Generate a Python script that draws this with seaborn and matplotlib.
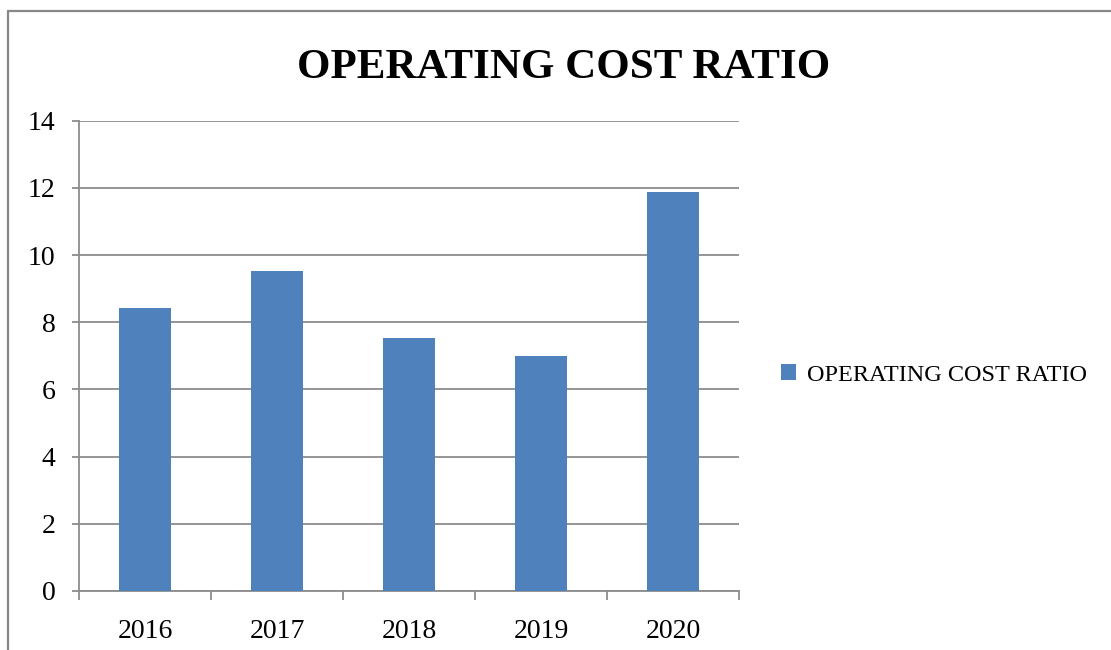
import matplotlib
matplotlib.use("Agg")
import matplotlib.pyplot as plt
from matplotlib.lines import Line2D
import seaborn as sns
import pandas as pd

years = ["2016", "2017", "2018", "2019", "2020"]
ratio = [8.42, 9.52, 7.53, 6.99, 11.87]
series_name = "OPERATING COST RATIO"
y_ticks = [0, 2, 4, 6, 8, 10, 12, 14]

sns.set_theme(style="white")
plt.rcParams["font.family"] = ["Liberation Serif", "DejaVu Serif"]
plt.rcParams["text.color"] = "black"
plt.rcParams["xtick.color"] = "black"
plt.rcParams["ytick.color"] = "black"

bar_color = "#4F81BD"
grid_color = "#8C8C8C"

df = pd.DataFrame({"year": years, "ratio": ratio})

fig = plt.figure(figsize=(11.11, 6.5), dpi=100)
ax = fig.add_axes([0.0711, 0.0908, 0.5941, 0.7235])

sns.barplot(data=df, x="year", y="ratio", color=bar_color, width=0.4,
            saturation=1, label=series_name, ax=ax, zorder=3,
            linewidth=0, edgecolor="none")
if ax.get_legend() is not None:
    ax.get_legend().remove()

ax.set_xlim(-0.5, len(years) - 0.5)
ax.set_ylim(0, 14)
ax.set_yticks(y_ticks)
ax.set_yticklabels([str(t) for t in y_ticks], fontsize=20)
ax.tick_params(axis="x", which="major", length=0, labelsize=20, pad=20,
               bottom=True)
ax.set_xticks([i - 0.5 for i in range(len(years) + 1)], minor=True)
ax.tick_params(axis="x", which="minor", length=6.5, width=1.3,
               color=grid_color, direction="out", bottom=True)
ax.tick_params(axis="y", which="major", length=5, width=1.3,
               color=grid_color, direction="out", pad=12, left=True,
               labelcolor="black")
ax.tick_params(axis="x", labelcolor="black")
ax.set_xlabel("")
ax.set_ylabel("")

ax.yaxis.grid(True, color=grid_color, linewidth=1.3, zorder=0)
ax.set_axisbelow(True)
for side in ("top", "right"):
    ax.spines[side].set_visible(False)
for side in ("left", "bottom"):
    ax.spines[side].set_color(grid_color)
    ax.spines[side].set_linewidth(1.3)

fig.text(0.507, 1 - 78 / 650, series_name, ha="center", va="baseline",
         fontsize=31, fontweight="bold", color="black")

handles, labels = ax.get_legend_handles_labels()
fig.legend(handles[:1], labels[:1], loc="center left",
           bbox_to_anchor=(0.683, 0.423), frameon=False, fontsize=17.5,
           handlelength=0.65, handleheight=0.65, handletextpad=0.45,
           labelcolor="black")

# outer chart-area border (left and top edges)
fx = 8 / 1111
fy = 1 - 11 / 650
fig.add_artist(Line2D([fx, fx], [0, fy], transform=fig.transFigure,
                      color="#878787", linewidth=1.6))
fig.add_artist(Line2D([fx, 1], [fy, fy], transform=fig.transFigure,
                      color="#878787", linewidth=1.6))

fig.savefig("out.png", dpi=100)
